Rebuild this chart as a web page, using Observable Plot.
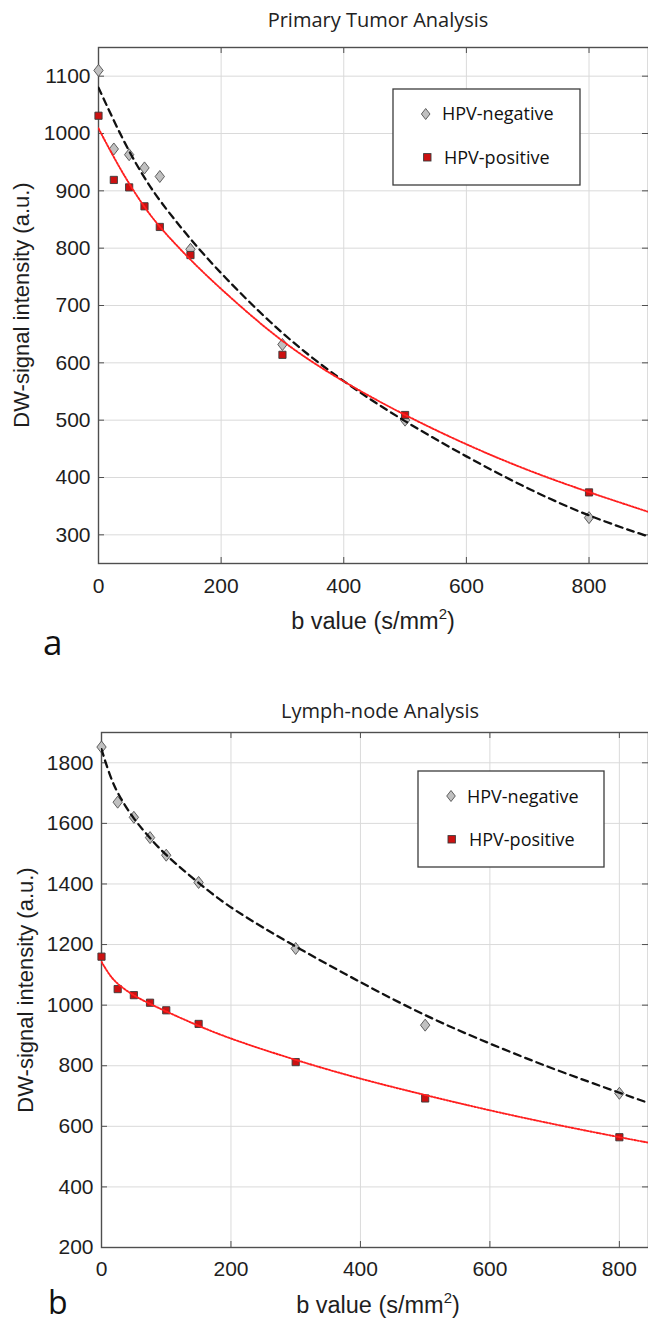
<!DOCTYPE html>
<html>
<head>
<meta charset="utf-8">
<script src="https://cdn.jsdelivr.net/npm/d3@7"></script>
<script src="https://cdn.jsdelivr.net/npm/@observablehq/plot@0.6"></script>
<style>
  html, body { margin: 0; padding: 0; background: #fff; }
  #root { position: relative; width: 648px; height: 1326px; overflow: hidden; background: #fff; }
  #root svg { position: absolute; left: 0; }
</style>
</head>
<body>
<div id="root"></div>
<script>
// ---------- data ----------
const bValues = [0, 25, 50, 75, 100, 150, 300, 500, 800];
const tumorNeg = [1110, 973, 963, 940, 925, 798, 632, 500, 330];
const tumorPos = [1031, 919, 906, 873, 837, 788, 614, 509, 374];
const nodeNeg = [1852, 1670, 1620, 1553, 1495, 1405, 1187, 934, 709];
const nodePos = [1160, 1053, 1033, 1008, 983, 938, 812, 692, 564];

const fitBTumor = [0, 25, 50, 75, 100, 150, 200, 300, 400, 500, 600, 700, 800, 897];
const tumorNegFit = [1080, 1022, 968, 922, 882, 815, 755, 648, 566, 497, 436, 380, 332, 297];
const tumorPosFit = [1009, 958, 912, 871, 836, 779, 728, 634, 566, 508, 457, 412, 374, 340];

const fitBNode = [0, 12, 25, 50, 75, 100, 150, 200, 300, 400, 500, 600, 700, 800, 845];
const nodeNegFit = [1845, 1762, 1697, 1613, 1551, 1493, 1403, 1318, 1192, 1075, 964, 872, 787, 711, 677];
const nodePosFit = [1143, 1100, 1068, 1031, 1004, 979, 931, 888, 818, 756, 703, 652, 606, 564, 546];

const xTicks = [0, 200, 400, 600, 800];
const yTicksTumor = [300, 400, 500, 600, 700, 800, 900, 1000, 1100];
const yTicksNode = [200, 400, 600, 800, 1000, 1200, 1400, 1600, 1800];

const titles = ["Primary Tumor Analysis", "Lymph-node Analysis"];
const seriesNames = ["HPV-negative", "HPV-positive"];
const yLabel = "DW-signal intensity (a.u.)";
const panelLetters = ["a", "b"];

// ---------- helpers ----------
const toRows = (xs, ys) => xs.map((b, i) => ({b, v: ys[i]}));

const diamondSym = {
  draw(ctx, size) {
    const r = Math.sqrt(size / Math.PI);
    const w = r * 0.78;
    ctx.moveTo(0, -r); ctx.lineTo(w, 0); ctx.lineTo(0, r); ctx.lineTo(-w, 0); ctx.closePath();
  }
};
const squareSym = {
  draw(ctx, size) {
    const r = Math.sqrt(size / Math.PI);
    ctx.moveTo(-r, -r); ctx.lineTo(r, -r); ctx.lineTo(r, r); ctx.lineTo(-r, r); ctx.closePath();
  }
};

const GRID = "#dadada";
const AXIS = "#4f4f4f";
const NEG_FILL = "#c0c0c0";
const NEG_STROKE = "#505050";
const POS_FILL = "#cc1111";
const POS_STROKE = "#3a3a3a";
const AX_FONT = "'Liberation Sans', Arial, sans-serif";
const TITLE_FONT = "'Open Sans', 'Noto Sans', sans-serif";
const fmt = d3.format("d");

function panel({height, mt, mb, ml, xmax, ydom, yTicks, neg, pos, negFit, posFit, fitB, padX}) {
  const fw = 648 - ml;
  const fh = height - mt - mb;
  return Plot.plot({
    width: 648, height,
    marginTop: mt, marginBottom: mb, marginLeft: ml, marginRight: 0,
    style: {fontFamily: AX_FONT, fontSize: "21px", color: "#1e1e1e", background: "white", overflow: "visible"},
    x: {domain: [0, xmax]},
    y: {domain: ydom},
    marks: [
      Plot.gridX(xTicks, {stroke: GRID, strokeOpacity: 1}),
      Plot.gridY(yTicks, {stroke: GRID, strokeOpacity: 1}),
      Plot.tickX(xTicks, {x: d => d, stroke: AXIS, insetTop: fh - 6}),
      Plot.tickX(xTicks, {x: d => d, stroke: AXIS, insetBottom: fh - 6}),
      Plot.tickY(yTicks, {y: d => d, stroke: AXIS, insetRight: fw - 6}),
      Plot.tickY(yTicks, {y: d => d, stroke: AXIS, insetLeft: fw - 6}),
      Plot.frame({stroke: AXIS, strokeWidth: 1.4}),
      Plot.dot(toRows(bValues, neg), {x: "b", y: "v", symbol: diamondSym, r: 6, fill: NEG_FILL, stroke: NEG_STROKE, strokeWidth: 0.9}),
      Plot.dot(toRows(bValues, pos), {x: "b", y: "v", symbol: squareSym, r: 3.6, fill: POS_FILL, stroke: POS_STROKE, strokeWidth: 0.9}),
      Plot.line(toRows(fitB, negFit), {x: "b", y: "v", stroke: "#111", strokeWidth: 2.3, strokeDasharray: "7,5", curve: "basis", clip: true}),
      Plot.line(toRows(fitB, posFit), {x: "b", y: "v", stroke: "#ff1f1f", strokeWidth: 1.9, strokeDasharray: "1.6,1.6", curve: "basis", clip: true}),
      Plot.axisX(xTicks, {tickSize: 0, tickPadding: padX, label: null, tickFormat: fmt, fontSize: 21, fontFamily: AX_FONT}),
      Plot.axisY(yTicks, {tickSize: 0, tickPadding: 8, label: null, tickFormat: fmt, fontSize: 21, fontFamily: AX_FONT})
    ]
  });
}

const root = document.getElementById("root");

const top1 = panel({height: 600, mt: 47, mb: 37, ml: 98, xmax: 897, ydom: [250, 1150], yTicks: yTicksTumor,
  neg: tumorNeg, pos: tumorPos, negFit: tumorNegFit, posFit: tumorPosFit, fitB: fitBTumor, padX: 15});
top1.style.top = "0px";
root.appendChild(top1);

const bot = panel({height: 620, mt: 72, mb: 33, ml: 101, xmax: 845, ydom: [200, 1900], yTicks: yTicksNode,
  neg: nodeNeg, pos: nodePos, negFit: nodeNegFit, posFit: nodePosFit, fitB: fitBNode, padX: 14});
bot.style.top = "660px";
root.appendChild(bot);

// ---------- overlay: titles, axis labels, legends, panel letters ----------
const ov = d3.create("svg").attr("width", 648).attr("height", 1326)
  .style("top", "0px").style("pointer-events", "none");

const layout = [
  {title: [378, 26.7], ylab: [28.5, 305], xlab: [373, 629], letter: [43, 655], letterSize: 35,
   box: [393, 89, 187, 96], m1: [425.7, 114], t1: [442, 120], m2: [427.3, 157.3], t2: [444, 164]},
  {title: [380, 718], ylab: [32.5, 990], xlab: [378, 1313], letter: [48, 1314], letterSize: 32,
   box: [418, 771, 186, 96], m1: [451, 796], t1: [467, 802.7], m2: [451.7, 839.3], t2: [469, 846]}
];

layout.forEach((L, i) => {
  ov.append("text").attr("x", L.title[0]).attr("y", L.title[1]).attr("text-anchor", "middle")
    .attr("font-family", TITLE_FONT).attr("font-size", 20).attr("fill", "#222").text(titles[i]);
  ov.append("text").attr("transform", `translate(${L.ylab[0]},${L.ylab[1]}) rotate(-90)`)
    .attr("text-anchor", "middle").attr("font-family", AX_FONT).attr("font-size", 22).attr("fill", "#1e1e1e").text(yLabel);
  const xl = ov.append("text").attr("x", L.xlab[0]).attr("y", L.xlab[1]).attr("text-anchor", "middle")
    .attr("font-family", AX_FONT).attr("font-size", 23.5).attr("fill", "#1e1e1e");
  xl.append("tspan").text("b value (s/mm");
  xl.append("tspan").attr("font-size", 15).attr("dy", -10).text("2");
  xl.append("tspan").attr("dy", 10).text(")");
  ov.append("text").attr("x", L.letter[0]).attr("y", L.letter[1]).attr("font-family", TITLE_FONT)
    .attr("font-size", L.letterSize).attr("fill", "#111").text(panelLetters[i]);
  // legend
  const [bx, by, bw, bh] = L.box;
  ov.append("rect").attr("x", bx).attr("y", by).attr("width", bw).attr("height", bh)
    .attr("fill", "white").attr("stroke", "#3c3c3c").attr("stroke-width", 1.3);
  const [dx, dy] = L.m1;
  ov.append("path").attr("d", `M${dx},${dy - 5.5}L${dx + 4.3},${dy}L${dx},${dy + 5.5}L${dx - 4.3},${dy}Z`)
    .attr("fill", NEG_FILL).attr("stroke", NEG_STROKE).attr("stroke-width", 0.9);
  ov.append("text").attr("x", L.t1[0]).attr("y", L.t1[1]).attr("font-family", TITLE_FONT)
    .attr("font-size", 18).attr("fill", "#111").text(seriesNames[0]);
  const [sx, sy] = L.m2;
  ov.append("rect").attr("x", sx - 3.7).attr("y", sy - 3.7).attr("width", 7.4).attr("height", 7.4)
    .attr("fill", POS_FILL).attr("stroke", POS_STROKE).attr("stroke-width", 0.9);
  ov.append("text").attr("x", L.t2[0]).attr("y", L.t2[1]).attr("font-family", TITLE_FONT)
    .attr("font-size", 18).attr("fill", "#111").text(seriesNames[1]);
});
root.appendChild(ov.node());
</script>
</body>
</html>
